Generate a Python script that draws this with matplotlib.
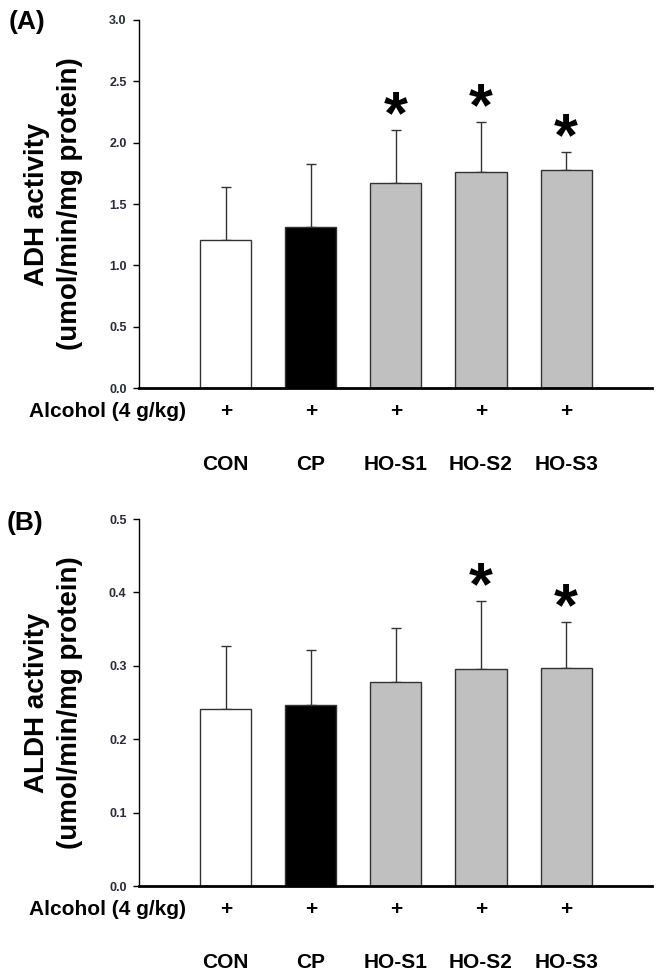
import matplotlib
matplotlib.use("Agg")
import matplotlib.pyplot as plt
import numpy as np

plt.rcParams['font.family'] = ['Liberation Sans', 'DejaVu Sans']

groups = ["CON", "CP", "HO-S1", "HO-S2", "HO-S3"]
bar_colors = ["white", "black", "#c0c0c0", "#c0c0c0", "#c0c0c0"]

adh_mean = [1.21, 1.31, 1.67, 1.76, 1.78]
adh_err = [0.43, 0.52, 0.43, 0.41, 0.145]
adh_star = [False, False, True, True, True]

aldh_mean = [0.241, 0.246, 0.278, 0.295, 0.297]
aldh_err = [0.086, 0.076, 0.073, 0.093, 0.063]
aldh_star = [False, False, False, True, True]

W, H = 671, 972
fig = plt.figure(figsize=(W / 100, H / 100), dpi=100)


def panel(rect, mean, err, star, ymax, step, ylab, letter, letter_xy):
  ax = fig.add_axes(rect)
  x = np.arange(len(groups))
  ax.bar(x, mean, width=0.6, color=bar_colors, edgecolor="#333333", linewidth=1.0, zorder=2)
  ax.errorbar(x, mean, yerr=[np.zeros(len(mean)), err], fmt="none", ecolor="#333333",
              elinewidth=1.0, capsize=3.5, capthick=1.0, zorder=1)
  ax.set_xlim(-1.02, 5.01)
  ax.set_ylim(0, ymax)
  ax.set_yticks(np.arange(0, ymax + step / 2, step))
  ax.yaxis.set_major_formatter(matplotlib.ticker.FormatStrFormatter("%.1f"))
  ax.set_xticks([])
  for s in ["top", "right"]:
    ax.spines[s].set_visible(False)
  ax.spines["left"].set_linewidth(1.0)
  ax.spines["bottom"].set_linewidth(2.0)
  ax.tick_params(axis="y", direction="out", length=4, width=1, pad=5,
                 labelsize=9, labelcolor="#2a2a3a")
  for lab in ax.get_yticklabels():
    lab.set_fontweight("bold")
  for i in range(len(groups)):
    if star[i]:
      ax.annotate("*", xy=(x[i], mean[i] + err[i]), xytext=(0, 9), textcoords="offset points",
                  ha="center", va="center", fontsize=44, fontweight="bold")
  tr = ax.get_xaxis_transform()
  ax.text(-0.47, -0.065, "Alcohol (4 g/kg)", transform=tr, ha="right", va="center",
          fontsize=15, fontweight="bold")
  for i in range(len(groups)):
    ax.text(x[i], -0.065, "+", transform=tr, ha="center", va="center",
            fontsize=15, fontweight="bold")
    ax.text(x[i], -0.209, groups[i], transform=tr, ha="center", va="center",
            fontsize=15, fontweight="bold")
  yc = rect[1] + rect[3] / 2
  fig.text(37 / W, yc, ylab[0], rotation=90, ha="center", va="center",
           fontsize=20, fontweight="bold")
  fig.text(70 / W, yc, ylab[1], rotation=90, ha="center", va="center",
           fontsize=20, fontweight="bold")
  fig.text(letter_xy[0] / W, 1 - letter_xy[1] / H, letter, ha="left", va="center",
           fontsize=19, fontweight="bold")
  return ax


panel([139 / W, 1 - 388 / H, (652 - 139) / W, 368 / H], adh_mean, adh_err, adh_star,
      3.0, 0.5, ["ADH activity", "(umol/min/mg protein)"], "(A)", (9, 22))
panel([139 / W, 1 - 886 / H, (652 - 139) / W, 367 / H], aldh_mean, aldh_err, aldh_star,
      0.5, 0.1, ["ALDH activity", "(umol/min/mg protein)"], "(B)", (7, 523))

fig.savefig("out.png", dpi=100, facecolor="white")
